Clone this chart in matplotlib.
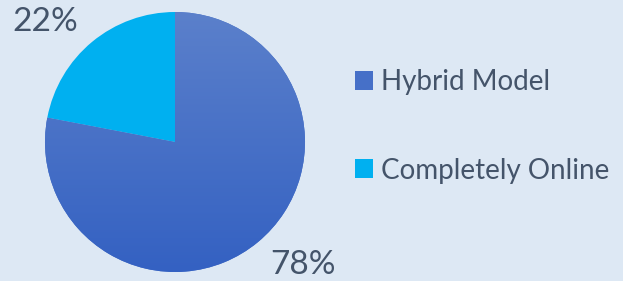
import matplotlib
matplotlib.use("Agg")
import matplotlib.pyplot as plt
import numpy as np
from matplotlib.colors import LinearSegmentedColormap

labels = ["Hybrid Model", "Completely Online"]
values = [78, 22]
pct_text = ["78%", "22%"]
colors = ["#4670c8", "#00b0f0"]
bg = "#dde8f4"
txt = "#44546a"

plt.rcParams['font.family'] = ['Lato', 'DejaVu Sans']

fig = plt.figure(figsize=(6.23, 2.81), dpi=100, facecolor=bg)
W, H = 623, 281
cx, cy, r = 175, 142, 130
ax = fig.add_axes([(cx - r) / W, (H - cy - r) / H, 2 * r / W, 2 * r / H])
ax.set_facecolor(bg)
wedges, _ = ax.pie(values, colors=colors, startangle=90, counterclock=False,
                   radius=1, wedgeprops=dict(linewidth=0))
ax.set_xlim(-1, 1)
ax.set_ylim(-1, 1)
ax.set_aspect('equal')
ax.axis('off')

# vertical gradient on the Hybrid wedge
cmap = LinearSegmentedColormap.from_list("g", ["#3461c2", "#5b80cb"])
grad = np.linspace(0, 1, 256).reshape(-1, 1)
im = ax.imshow(grad, extent=[-1, 1, -1, 1], origin='lower', cmap=cmap,
               aspect='auto', zorder=wedges[0].get_zorder() + 0.1)
im.set_clip_path(wedges[0])
ax.set_xlim(-1, 1)
ax.set_ylim(-1, 1)

# percentage labels (outside end, best fit)
ax.text(0.985, -0.946, pct_text[0], fontsize=24, color=txt, ha='center',
        va='center', clip_on=False)
ax.text(-1.0, 0.92, pct_text[1], fontsize=24, color=txt, ha='center',
        va='center', clip_on=False)

leg = fig.legend(wedges, labels, loc='upper left',
                 bbox_to_anchor=(355 / W, 1 - 69 / H), frameon=False,
                 fontsize=20, labelcolor=txt, handlelength=0.65,
                 handleheight=0.65, handletextpad=0.3, labelspacing=2.25,
                 borderpad=0, borderaxespad=0)

fig.savefig("out.png", dpi=100, facecolor=bg)
